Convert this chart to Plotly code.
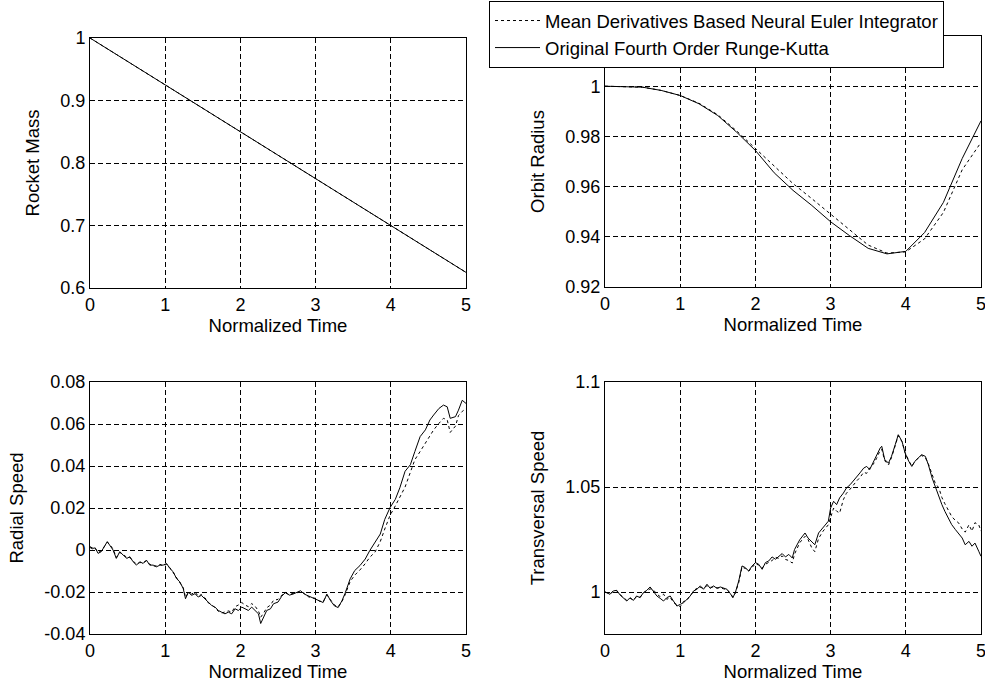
import plotly.graph_objects as go

# ---------------- data ----------------
mass_t = [0, 1, 2, 3, 4, 5]
mass_rk4 = [1.0, 0.925, 0.85, 0.775, 0.70, 0.625]
mass_euler = [1.0, 0.925, 0.85, 0.775, 0.70, 0.625]

orbit_t = [0, 0.25, 0.5, 0.75, 1, 1.25, 1.5, 1.75, 2, 2.25, 2.5, 2.75, 3,
           3.25, 3.5, 3.75, 4, 4.25, 4.5, 4.75, 5]
orbit_rk4 = [1.0, 0.99995, 0.9996, 0.9983, 0.9963, 0.993, 0.9883, 0.9817, 0.9744,
             0.9655, 0.9585, 0.9525, 0.9460, 0.9405, 0.9354, 0.9332, 0.9342,
             0.9417, 0.9537, 0.9712, 0.9862]
orbit_euler = [1.0, 0.99995, 0.9996, 0.9983, 0.9963, 0.9932, 0.9886, 0.9822, 0.9752,
               0.9678, 0.9612, 0.9552, 0.9490, 0.9426, 0.9367, 0.9335, 0.9340,
               0.9392, 0.9497, 0.9667, 0.9776]

radial_t = [0.00, 0.04, 0.07, 0.107, 0.15, 0.196, 0.23, 0.26, 0.307, 0.35, 0.396,
            0.44, 0.49, 0.53, 0.573, 0.618, 0.662, 0.707, 0.75, 0.795, 0.84,
            0.884, 0.93, 0.973, 1.018, 1.062, 1.107, 1.15, 1.195, 1.24, 1.27,
            1.307, 1.35, 1.396, 1.44, 1.48, 1.53, 1.573, 1.618, 1.662, 1.707,
            1.75, 1.795, 1.84, 1.884, 1.93, 1.973, 2.018, 2.062, 2.107, 2.15,
            2.196, 2.24, 2.27, 2.31, 2.35, 2.40, 2.44, 2.50, 2.55, 2.60, 2.65,
            2.70, 2.75, 2.80, 2.85, 2.90, 2.95, 3.00, 3.05, 3.10, 3.15, 3.20,
            3.25, 3.30, 3.35, 3.39, 3.46, 3.52, 3.59, 3.66, 3.72, 3.79, 3.86,
            3.92, 3.99, 4.06, 4.12, 4.19, 4.26, 4.32, 4.39, 4.46, 4.52, 4.57,
            4.64, 4.70, 4.75, 4.79, 4.86, 4.90, 4.95, 5.00]
radial_rk4 = [0.0016, 0.0008, 0.0010, -0.0016, -0.0008, 0.0024, 0.0040, 0.0024, 0.0000,
              -0.0040, -0.0008, -0.0024, -0.0040, -0.0032, -0.0056, -0.0072, -0.0056,
              -0.0064, -0.0048, -0.0072, -0.0072, -0.0080, -0.0072, -0.0072, -0.0064,
              -0.0088, -0.0104, -0.0136, -0.0152, -0.0184, -0.0232, -0.0200, -0.0216,
              -0.0208, -0.0224, -0.0216, -0.0232, -0.0248, -0.0264, -0.0272, -0.0288,
              -0.0296, -0.0304, -0.0296, -0.0304, -0.0280, -0.0288, -0.0272, -0.0280,
              -0.0288, -0.0272, -0.0288, -0.0304, -0.0350, -0.0320, -0.0288, -0.0280,
              -0.0256, -0.0248, -0.0220, -0.0202, -0.0215, -0.0210, -0.0200, -0.0194,
              -0.0210, -0.0218, -0.0225, -0.0234, -0.0240, -0.0250, -0.0210, -0.0242,
              -0.0266, -0.0274, -0.0242, -0.0208, -0.0137, -0.0098, -0.0074, -0.0043,
              -0.0003, 0.0036, 0.0076, 0.0146, 0.0202, 0.0241, 0.0296, 0.0375, 0.0406,
              0.0469, 0.0540, 0.0572, 0.0619, 0.0643, 0.0674, 0.0690, 0.0682, 0.0627,
              0.0635, 0.0666, 0.0713, 0.0698]
radial_euler = [0.0012, 0.0004, 0.0008, -0.0012, -0.0004, 0.0020, 0.0036, 0.0028, 0.0004,
                -0.0036, -0.0012, -0.0020, -0.0036, -0.0036, -0.0052, -0.0068, -0.0060,
                -0.0060, -0.0052, -0.0068, -0.0076, -0.0076, -0.0068, -0.0076, -0.0068,
                -0.0084, -0.0108, -0.0132, -0.0156, -0.0180, -0.0225, -0.0205, -0.0210,
                -0.0200, -0.0220, -0.0212, -0.0228, -0.0252, -0.0260, -0.0276, -0.0292,
                -0.0300, -0.0296, -0.0290, -0.0296, -0.0270, -0.0262, -0.0250, -0.0262,
                -0.0270, -0.0255, -0.0268, -0.0290, -0.0320, -0.0300, -0.0275, -0.0262,
                -0.0240, -0.0235, -0.0215, -0.0205, -0.0212, -0.0206, -0.0204, -0.0198,
                -0.0206, -0.0222, -0.0228, -0.0230, -0.0244, -0.0246, -0.0214, -0.0238,
                -0.0262, -0.0270, -0.0246, -0.0215, -0.0150, -0.0120, -0.0095, -0.0065,
                -0.0035, -0.0010, 0.0040, 0.0100, 0.0165, 0.0210, 0.0250, 0.0300, 0.0370,
                0.0430, 0.0469, 0.0509, 0.0548, 0.0572, 0.0603, 0.0627, 0.0620, 0.0560,
                0.0590, 0.0640, 0.0660, 0.0674]

trans_t = [0.00, 0.067, 0.11, 0.156, 0.20, 0.244, 0.29, 0.333, 0.378, 0.42, 0.467,
           0.51, 0.556, 0.60, 0.644, 0.69, 0.733, 0.778, 0.822, 0.867, 0.91, 0.956,
           1.00, 1.044, 1.09, 1.133, 1.178, 1.222, 1.267, 1.31, 1.356, 1.40, 1.444,
           1.49, 1.533, 1.578, 1.622, 1.667, 1.70, 1.733, 1.778, 1.822, 1.867, 1.91,
           1.956, 2.00, 2.044, 2.09, 2.133, 2.178, 2.222, 2.267, 2.311, 2.356, 2.40,
           2.444, 2.49, 2.52, 2.59, 2.66, 2.70, 2.75, 2.79, 2.84, 2.90, 2.97, 3.00,
           3.04, 3.08, 3.12, 3.17, 3.21, 3.26, 3.30, 3.35, 3.39, 3.44, 3.48, 3.52,
           3.57, 3.61, 3.66, 3.68, 3.72, 3.77, 3.81, 3.86, 3.90, 3.95, 3.99, 4.04,
           4.08, 4.12, 4.17, 4.21, 4.26, 4.30, 4.35, 4.39, 4.44, 4.48, 4.52, 4.57,
           4.61, 4.66, 4.70, 4.75, 4.79, 4.84, 4.88, 4.92, 4.97, 5.00]
trans_rk4 = [1.0000, 0.9989, 1.0005, 1.0008, 0.9986, 0.9973, 0.9957, 0.9973, 0.9960,
             0.9981, 0.9973, 0.9997, 1.0008, 1.0024, 1.0005, 0.9981, 0.9970, 0.9957,
             0.9973, 0.9981, 0.9957, 0.9933, 0.9941, 0.9949, 0.9965, 0.9981, 1.0005,
             1.0013, 1.0029, 1.0013, 1.0037, 1.0017, 1.0029, 1.0017, 1.0024, 1.0017,
             1.0013, 0.9992, 0.9973, 0.9997, 1.0052, 1.0124, 1.0116, 1.0100, 1.0124,
             1.0140, 1.0132, 1.0108, 1.0140, 1.0148, 1.0167, 1.0156, 1.0171, 1.0183,
             1.0167, 1.0179, 1.0162, 1.0202, 1.0249, 1.0281, 1.0257, 1.0241, 1.0225,
             1.0281, 1.0305, 1.0337, 1.0400, 1.0432, 1.0416, 1.0448, 1.0471, 1.0495,
             1.0511, 1.0527, 1.0551, 1.0567, 1.0590, 1.0598, 1.0583, 1.0622, 1.0646,
             1.0686, 1.0694, 1.0630, 1.0614, 1.0646, 1.0702, 1.0749, 1.0717, 1.0662,
             1.0622, 1.0598, 1.0622, 1.0638, 1.0654, 1.0646, 1.0606, 1.0543, 1.0503,
             1.0463, 1.0416, 1.0384, 1.0352, 1.0321, 1.0297, 1.0281, 1.0257, 1.0225,
             1.0241, 1.0218, 1.0233, 1.0194, 1.0170]
trans_euler = [1.0000, 0.9992, 1.0003, 1.0006, 0.9988, 0.9975, 0.9960, 0.9970, 0.9962,
               0.9978, 0.9976, 0.9995, 1.0005, 1.0015, 1.0010, 0.9990, 0.9978, 0.9990,
               0.9965, 0.9975, 0.9950, 0.9940, 0.9930, 0.9955, 0.9960, 0.9985, 1.0000,
               1.0020, 1.0022, 1.0018, 1.0030, 1.0022, 1.0025, 1.0020, 1.0020, 1.0015,
               1.0010, 0.9995, 0.9975, 0.9995, 1.0045, 1.0118, 1.0112, 1.0098, 1.0118,
               1.0135, 1.0128, 1.0115, 1.0132, 1.0140, 1.0150, 1.0165, 1.0160, 1.0172,
               1.0155, 1.0150, 1.0138, 1.0180, 1.0235, 1.0265, 1.0250, 1.0210, 1.0192,
               1.0255, 1.0290, 1.0320, 1.0360, 1.0400, 1.0385, 1.0376, 1.0440, 1.0470,
               1.0490, 1.0510, 1.0530, 1.0545, 1.0570, 1.0565, 1.0590, 1.0610, 1.0635,
               1.0675, 1.0680, 1.0625, 1.0605, 1.0640, 1.0700, 1.0745, 1.0715, 1.0665,
               1.0625, 1.0600, 1.0620, 1.0640, 1.0650, 1.0640, 1.0610, 1.0560, 1.0520,
               1.0495, 1.0450, 1.0420, 1.0390, 1.0360, 1.0340, 1.0330, 1.0300, 1.0285,
               1.0320, 1.0290, 1.0330, 1.0320, 1.0290]

x_ticks = [0, 1, 2, 3, 4, 5]
mass_ticks = [0.6, 0.7, 0.8, 0.9, 1.0]
mass_ticklabels = ["0.6", "0.7", "0.8", "0.9", "1"]
orbit_ticks = [0.92, 0.94, 0.96, 0.98, 1.0]
orbit_ticklabels = ["0.92", "0.94", "0.96", "0.98", "1"]
radial_ticks = [-0.04, -0.02, 0, 0.02, 0.04, 0.06, 0.08]
radial_ticklabels = ["-0.04", "-0.02", "0", "0.02", "0.04", "0.06", "0.08"]
trans_ticks = [1.0, 1.05, 1.1]
trans_ticklabels = ["1", "1.05", "1.1"]

name_euler = "Mean Derivatives Based Neural Euler Integrator"
name_rk4 = "Original Fourth Order Runge-Kutta"

# ---------------- figure ----------------
FONT = "Liberation Sans, Arial, sans-serif"
fig = go.Figure()

panels = [
    ("x", "y", mass_t, mass_euler, mass_rk4, True),
    ("x2", "y2", orbit_t, orbit_euler, orbit_rk4, False),
    ("x3", "y3", radial_t, radial_euler, radial_rk4, False),
    ("x4", "y4", trans_t, trans_euler, trans_rk4, False),
]
for xa, ya, t, ye, yr, show in panels:
    fig.add_trace(go.Scatter(x=t, y=ye, xaxis=xa, yaxis=ya, mode="lines",
                             name=name_euler, showlegend=show, legendrank=1,
                             line=dict(color="black", width=1, dash="3px,3px")))
    fig.add_trace(go.Scatter(x=t, y=yr, xaxis=xa, yaxis=ya, mode="lines",
                             name=name_rk4, showlegend=show, legendrank=2,
                             line=dict(color="black", width=1)))

W, H = 985, 688
def xd(a, b):
    return [a / W, b / W]
def yd(top, bot):
    return [1 - bot / H, 1 - top / H]

axis_common = dict(showline=True, linecolor="black", linewidth=1, mirror=True,
                   showgrid=True, gridcolor="black", gridwidth=1, griddash="5px,3px",
                   zeroline=False, ticks="", automargin=False,
                   ticklabeloverflow="allow",
                   tickfont=dict(family=FONT, size=18, color="black"),
                   title_font=dict(family=FONT, size=18.5, color="black"))

def xaxis(dom, anchor):
    return dict(axis_common, domain=dom, anchor=anchor, range=[0, 5],
                tickvals=x_ticks, title=dict(text="Normalized Time", standoff=2))

def yaxis(dom, anchor, rng, tv, tt, title):
    return dict(axis_common, domain=dom, anchor=anchor, range=rng,
                tickvals=tv, ticktext=tt, title_text=title)

fig.update_layout(
    width=W, height=H,
    margin=dict(l=0, r=0, t=0, b=0),
    paper_bgcolor="white", plot_bgcolor="white",
    font=dict(family=FONT, size=18, color="black"),
    hovermode=False,
    xaxis=xaxis(xd(90, 466), "y"),
    yaxis=yaxis(yd(38, 288), "x", [0.6, 1.0], mass_ticks, mass_ticklabels, "Rocket Mass"),
    xaxis2=xaxis(xd(605, 981), "y2"),
    yaxis2=yaxis(yd(36, 287), "x2", [0.92, 1.02], orbit_ticks, orbit_ticklabels, "Orbit Radius"),
    xaxis3=xaxis(xd(90, 466), "y3"),
    yaxis3=yaxis(yd(382, 634), "x3", [-0.04, 0.08], radial_ticks, radial_ticklabels, "Radial Speed"),
    xaxis4=xaxis(xd(605, 981), "y4"),
    yaxis4=yaxis(yd(382, 634), "x4", [0.98, 1.1], trans_ticks, trans_ticklabels, "Transversal Speed"),
    legend=dict(x=489 / W, y=1 - 1 / H, xanchor="left", yanchor="top",
                bgcolor="white", bordercolor="black", borderwidth=1,
                font=dict(family=FONT, size=18.5, color="black"),
                tracegroupgap=0, itemwidth=45),
    showlegend=True,
)

# remove the page's default body margin so the figure fills the window exactly
page_css = ("document.body.style.margin='0';"
            "document.documentElement.style.overflow='hidden';"
            "document.body.style.overflow='hidden';")
fig.write_html("out.html", post_script=page_css, config={"displayModeBar": False})
